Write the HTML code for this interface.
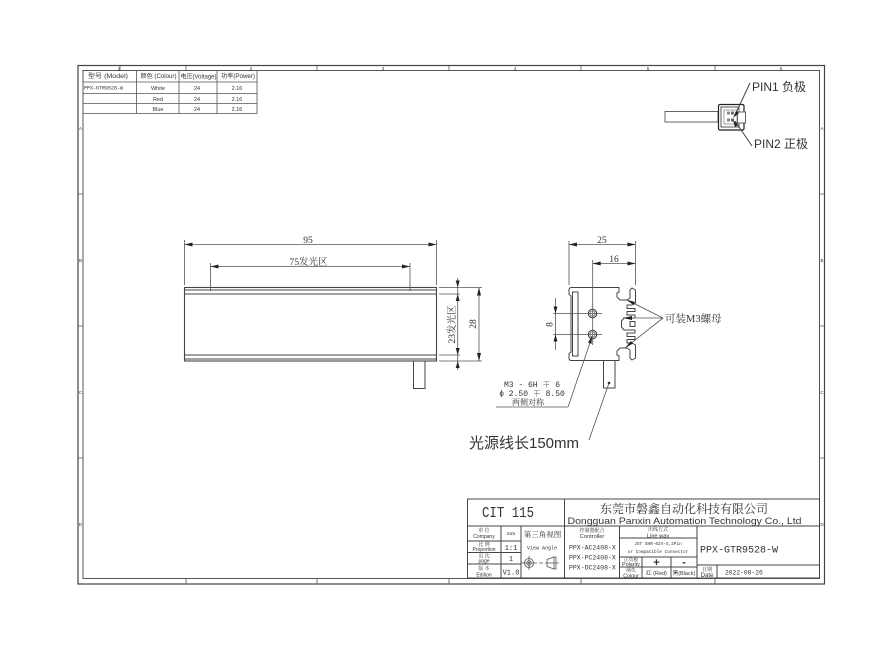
<!DOCTYPE html>
<html><head><meta charset="utf-8"><style>
html,body{margin:0;padding:0;background:#fff;width:895px;height:663px;overflow:hidden}
svg{display:block;filter:blur(.3px)}
text{font-family:"Liberation Sans","Noto Sans CJK SC",sans-serif;fill:#333}
.s{font-family:"Liberation Serif","Noto Serif CJK SC",serif}
.o{font-family:"Liberation Mono","Noto Serif CJK SC",monospace}
.m{text-anchor:middle}
.l{stroke:#444;stroke-width:1;fill:none}
.t{stroke:#555;stroke-width:.8;fill:none}
.a{fill:#222;stroke:none}
</style></head><body>
<svg width="895" height="663" viewBox="0 0 895 663" xmlns="http://www.w3.org/2000/svg">
<rect width="895" height="663" fill="#fff"/>
<!-- frames -->
<rect x="78" y="65.500" width="746.500" height="518.500" fill="none" stroke="#444" stroke-width="1.200"/>
<rect x="83" y="70.500" width="736.500" height="508" fill="none" stroke="#555" stroke-width="1"/>
<path class="t" d="M120 66v5M186 66v5M317 66v5M449 66v5M581 66v5M715 66v5M186 578v6M317 578v6M449 578v6M581 578v6M715 578v6M78 194h5M78 326h5M78 458h5M820 194h5M820 326h5M820 458h5"/>
<g font-size="4.500">
<text x="119" y="70" class="m">1</text><text x="251" y="70" class="m">2</text><text x="383" y="70" class="m">3</text><text x="515" y="70" class="m">4</text><text x="648" y="70" class="m">5</text><text x="781" y="70" class="m">6</text>
<text x="80.500" y="130" class="m">A</text><text x="80.500" y="262" class="m">B</text><text x="80.500" y="394" class="m">C</text><text x="80.500" y="526" class="m">D</text>
<text x="822" y="130" class="m">A</text><text x="822" y="262" class="m">B</text><text x="822" y="394" class="m">C</text><text x="822" y="526" class="m">D</text>
</g>
<!-- spec table -->
<path class="t" d="M83 70.500h174v43H83zM83 82h174M83 93.500h174M83 103.500h174M136.500 70.500v43M179 70.500v43M217 70.500v43"/>
<g font-size="5.500">
<text x="108" y="78" class="m" font-size="6" textLength="40" lengthAdjust="spacingAndGlyphs">型号 (Model)</text>
<text x="158.500" y="78" class="m" font-size="6" textLength="36" lengthAdjust="spacingAndGlyphs">颜色 (Colour)</text>
<text x="198.500" y="78.500" class="m" font-size="6" textLength="36" lengthAdjust="spacingAndGlyphs">电压(Voltage)</text>
<text x="238" y="78" class="m" font-size="6" textLength="34" lengthAdjust="spacingAndGlyphs">功率(Power)</text>
<text x="84" y="89.500" class="o" font-size="5">PPX-GTR9528-W</text>
<text x="158" y="90" class="m">White</text><text x="158" y="101" class="m">Red</text><text x="158" y="111" class="m">Blue</text>
<text x="197" y="90" class="m">24</text><text x="197" y="101" class="m">24</text><text x="197" y="111" class="m">24</text>
<text x="237" y="90" class="m">2.16</text><text x="237" y="101" class="m">2.16</text><text x="237" y="111" class="m">2.16</text>
</g>
<!-- connector -->
<rect x="665" y="111.500" width="53" height="10.500" fill="#fff" stroke="#666" stroke-width="1"/>
<rect x="718.500" y="104.500" width="25.500" height="25.500" rx="1.500" fill="#fff" stroke="#222" stroke-width="1.200"/>
<rect x="721" y="107" width="18" height="20" fill="none" stroke="#555" stroke-width="1"/>
<rect x="724" y="110" width="13" height="14" fill="none" stroke="#888" stroke-width=".8"/>
<rect x="737.500" y="112" width="8" height="11" fill="#fff" stroke="#555" stroke-width=".9"/>
<rect x="727" y="111.500" width="3" height="3" fill="#888"/><rect x="731" y="111.500" width="3" height="3" fill="#666"/>
<rect x="727" y="118.500" width="3" height="3" fill="#888"/><rect x="731" y="118.500" width="3" height="3" fill="#666"/>
<path d="M750 83L735 115" stroke="#444" stroke-width="1" fill="none"/>
<path d="M752 146L735 121" stroke="#444" stroke-width="1" fill="none"/>
<path class="a" d="M733 118l3-7 3 2zM733 120l5 5-3 2z"/>
<text x="752" y="91" font-size="12">PIN1 负极</text>
<text x="754" y="148" font-size="12">PIN2 正极</text>
<!-- front view -->
<rect x="184.500" y="287.500" width="252" height="73.500" fill="none" stroke="#444" stroke-width="1.100"/>
<path class="l" d="M184.500 290h252M184.500 294h252M184.500 355h252M184.500 359h252"/>
<path class="l" d="M413.500 361v27.500h11.500V361"/>
<!-- dims front -->
<path class="t" d="M184.500 240v45M436.500 240v45M184.500 244.500h252M210.500 263v28M410 263v28M210.500 266.500h199.500"/>
<path class="a" d="M184.500 244.500l8-2v4zM436.500 244.500l-8-2v4zM210.500 266.500l8-2v4zM410 266.500l-8-2v4z"/>
<text x="308" y="243" class="s m" font-size="9.500">95</text>
<text x="308.500" y="265" class="s m" font-size="9.500">75发光区</text>
<path class="t" d="M439 287.500h43M439 294h21M439 355h21M439 361h43M457.700 278v92M479 287.500v73.500"/>
<path class="a" d="M457.700 287.500l-2 -7h4zM457.700 294l-2 7h4zM457.700 355l-2-7h4zM457.700 361l-2 7h4zM479 287.500l-2 8h4zM479 361l-2-8h4z"/>
<text transform="translate(455,324.500) rotate(-90)" class="s m" font-size="9.500">23发光区</text>
<text transform="translate(476,324) rotate(-90)" class="s m" font-size="9.500">28</text>
<!-- side view -->
<path class="l" stroke-linejoin="round" d="M571 296L569 294.500V290Q569 287.500 571.500 287.500H619V292L617 293V297L620 300H627L630 298V290L632 288L635.500 290V303L632 305H627V308.500H635V311.500H627V315H635V318H624L621.500 321V327L624 330H635V333H627V336.500H635V339.500H627V343H632L635.500 345V358L632 360L630 358V350L627 348H620L617 351V355L619 356V360.500H571.500Q569 360.500 569 358V353.500L571 352Z"/>
<path class="l" d="M572.500 292h5.500v64h-5.500zM630 321.500h5v5h-5z"/>
<circle cx="592.500" cy="313.500" r="4.200" fill="none" stroke="#333" stroke-width="1"/><circle cx="592.500" cy="313.500" r="2.600" fill="none" stroke="#666" stroke-width=".8"/>
<circle cx="592.500" cy="334.500" r="4.200" fill="none" stroke="#333" stroke-width="1"/><circle cx="592.500" cy="334.500" r="2.600" fill="none" stroke="#666" stroke-width=".8"/>
<path class="t" d="M592.700 260V345M580 313.500h22M580 334.500h22M553 313.500h27M553 334.500h27M555.500 298v52M569 241v44M635.500 241v44M569 244.500h66.500M592.700 263.500h42.800"/>
<path class="a" d="M569 244.500l8-2v4zM635.500 244.500l-8-2v4zM592.700 263.500l8-2v4zM635.500 263.500l-8-2v4zM555.500 313.500l-2-7h4zM555.500 334.500l-2 7h4z"/>
<text x="602" y="243" class="s m" font-size="9.500">25</text>
<text x="614" y="262" class="s m" font-size="9.500">16</text>
<text transform="translate(552.500,324.500) rotate(-90)" class="s m" font-size="9.500">8</text>
<path class="l" d="M603.500 361v27h11.500v-27"/>
<circle cx="609" cy="383" r="1.300" fill="#222"/>
<path class="t" d="M609 383L589 440"/>
<text x="469" y="448" font-size="15">光源线长150mm</text>
<path class="t" d="M592 337L568 407H496"/>
<path class="a" d="M592 336l-.5 8-3.500-1.500z"/>
<text x="532" y="387" class="o m" font-size="8">M3 - 6H ∓ 6</text>
<text x="532" y="396" class="o m" font-size="8">ϕ 2.50 ∓ 8.50</text>
<text x="528" y="405" class="s m" font-size="8">两侧对称</text>
<path class="t" d="M663 318L627 300M663 318H623M663 318L625 348" stroke="#333"/>
<path class="a" d="M626 299.500l9 2.500-1.500 3zM623 318l9-2v4zM625 348l6-7 2 2.500z"/>
<text x="665" y="322" font-size="10.500" class="s">可装M3螺母</text>
<!-- title block -->
<path fill="#fff" stroke="#444" stroke-width="1" d="M467.500 499H819.500V578H467.500z"/>
<path class="l" d="M564.500 499V578M467.500 526H819.500M501 526V578M521 526V578M467.500 541H521M467.500 552.500H521M467.500 564H521M619.500 526V578M697 526V578M619.500 538H697M619.500 557H697M619.500 567H697M642 557V578M671 557V578M697 565H819.500M717 565V578"/>
<text x="508" y="517" class="o m" font-size="15" textLength="52" lengthAdjust="spacingAndGlyphs">CIT 115</text>
<text x="684" y="513" class="s m" font-size="12">东莞市磐鑫自动化科技有限公司</text>
<text x="684.500" y="524" class="m" font-size="9" textLength="234" lengthAdjust="spacingAndGlyphs">Dongguan Panxin Automation Technology Co., Ltd</text>
<g font-size="5">
<text x="484" y="532" class="s m">单 位</text><text x="484" y="538" class="m">Company</text>
<text x="484" y="546" class="s m">比 例</text><text x="484" y="551" class="m">Proportion</text>
<text x="484" y="557.500" class="s m">页 次</text><text x="484" y="562.500" class="m">page</text>
<text x="484" y="570" class="s m">版 本</text><text x="484" y="576.500" class="m">Edition</text>
</g>
<text x="511" y="535" class="s m" font-size="5.500">mm</text>
<text x="511" y="550" class="o m" font-size="7">1:1</text>
<text x="511" y="561" class="o m" font-size="7">1</text>
<text x="511" y="574.500" class="o m" font-size="7">V1.0</text>
<text x="542.500" y="537" class="s m" font-size="7.500">第三角视图</text>
<text x="542" y="549.500" class="o m" font-size="5">View Angle</text>
<circle cx="529" cy="563" r="4.500" class="t"/><circle cx="529" cy="563" r="2.300" class="t"/><circle cx="529" cy="563" r="1" fill="#444"/>
<path class="t" d="M521 563h16M529 556v14M539 563h4M545 563h14M547 559.500l7-2.500v12l-7-2.500zM554 557h2v12h-2"/>
<text x="592" y="532" class="s m" font-size="5">控制器配合</text>
<text x="592" y="538" class="m" font-size="5.700">Controller</text>
<text x="569" y="549.500" class="o" font-size="6.500">PPX-AC2408-X</text>
<text x="569" y="559.500" class="o" font-size="6.500">PPX-PC2408-X</text>
<text x="569" y="569.500" class="o" font-size="6.500">PPX-DC2408-X</text>
<text x="658" y="531" class="s m" font-size="5">出线方式</text>
<text x="658" y="537.500" class="m" font-size="5.700">Line way</text>
<text x="658" y="545" class="o m" font-size="4.400">JST SHR-02V-S,2Pin</text>
<text x="658" y="553" class="o m" font-size="4.400">or Compatible Connector</text>
<text x="631" y="561" class="s m" font-size="4.800">正负极</text>
<text x="631" y="566.200" class="m" font-size="5.300">Polarity</text>
<text x="631" y="571.500" class="s m" font-size="4.800">颜色</text>
<text x="631" y="577.300" class="m" font-size="5.300">Colour</text>
<text x="656.500" y="566" class="m" font-size="11" font-weight="bold">+</text>
<text x="684" y="565.500" class="m" font-size="11" font-weight="bold">-</text>
<text x="656.500" y="575" class="m" font-size="5.500">红 (Red)</text>
<text x="684" y="575" class="m" font-size="5.500">黑(Black)</text>
<text x="700" y="552.500" class="o" font-size="10">PPX-GTR9528-W</text>
<text x="707" y="571" class="s m" font-size="5">日期</text>
<text x="707" y="577" class="m" font-size="6">Date</text>
<text x="725" y="574.500" class="o" font-size="6.300">2022-08-26</text>
</svg>
</body></html>
